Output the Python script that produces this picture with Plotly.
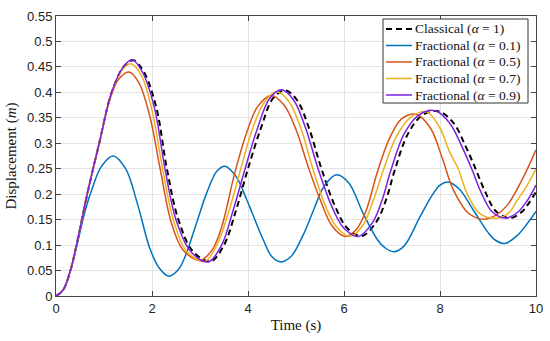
import plotly.graph_objects as go

# ---- data ----
t_classical = [0, 0.15, 0.3, 0.45, 0.65, 0.9, 1.16, 1.41, 1.61, 1.83, 2.09, 2.31, 2.55, 2.85, 3.22, 3.5, 3.74, 4.0, 4.27, 4.52, 4.77, 5.02, 5.27, 5.53, 5.82, 6.07, 6.37, 6.67, 6.88, 7.05, 7.33, 7.63, 7.97, 8.28, 8.53, 8.74, 8.94, 9.17, 9.46, 9.7, 9.87, 10]
y_classical = [0, 0.012, 0.05, 0.11, 0.2, 0.3, 0.4, 0.45, 0.463, 0.44, 0.37, 0.25, 0.15, 0.088, 0.068, 0.1, 0.165, 0.25, 0.33, 0.388, 0.404, 0.385, 0.33, 0.25, 0.175, 0.133, 0.118, 0.145, 0.19, 0.245, 0.318, 0.355, 0.363, 0.34, 0.295, 0.25, 0.205, 0.166, 0.153, 0.165, 0.185, 0.205]

t_a01 = [0, 0.15, 0.3, 0.45, 0.6, 0.75, 0.95, 1.19, 1.45, 1.7, 1.95, 2.15, 2.35, 2.55, 2.7, 2.94, 3.15, 3.35, 3.52, 3.75, 3.97, 4.1, 4.32, 4.5, 4.69, 4.9, 5.15, 5.35, 5.55, 5.71, 5.85, 6.1, 6.4, 6.7, 6.85, 7.03, 7.25, 7.58, 7.85, 8.0, 8.17, 8.4, 8.7, 9.0, 9.15, 9.35, 9.6, 9.8, 10]
y_a01 = [0, 0.012, 0.05, 0.105, 0.165, 0.21, 0.255, 0.275, 0.25, 0.18, 0.095, 0.055, 0.039, 0.052, 0.08, 0.147, 0.205, 0.245, 0.255, 0.235, 0.19, 0.16, 0.11, 0.077, 0.067, 0.078, 0.12, 0.165, 0.21, 0.23, 0.238, 0.222, 0.162, 0.11, 0.095, 0.087, 0.098, 0.155, 0.2, 0.218, 0.224, 0.21, 0.168, 0.125, 0.11, 0.103, 0.118, 0.14, 0.166]

t_a05 = [0, 0.15, 0.3, 0.45, 0.65, 0.9, 1.12, 1.3, 1.52, 1.72, 1.95, 2.17, 2.4, 2.65, 3.0, 3.25, 3.45, 3.72, 3.97, 4.2, 4.48, 4.75, 5.0, 5.25, 5.5, 5.75, 6.02, 6.25, 6.45, 6.7, 6.95, 7.2, 7.5, 7.8, 8.05, 8.28, 8.6, 8.9, 9.15, 9.4, 9.74, 10]
y_a05 = [0, 0.012, 0.05, 0.11, 0.2, 0.3, 0.385, 0.425, 0.44, 0.42, 0.355, 0.25, 0.145, 0.09, 0.07, 0.09, 0.135, 0.24, 0.32, 0.372, 0.394, 0.375, 0.327, 0.255, 0.19, 0.138, 0.117, 0.13, 0.165, 0.245, 0.31, 0.348, 0.357, 0.33, 0.27, 0.208, 0.162, 0.151, 0.158, 0.178, 0.234, 0.287]

t_a07 = [0, 0.15, 0.3, 0.45, 0.65, 0.9, 1.15, 1.35, 1.55, 1.77, 2.0, 2.22, 2.45, 2.72, 3.1, 3.35, 3.58, 3.85, 4.1, 4.35, 4.6, 4.85, 5.1, 5.35, 5.62, 5.85, 6.13, 6.4, 6.6, 6.83, 7.1, 7.4, 7.72, 8.0, 8.2, 8.38, 8.56, 8.83, 9.2, 9.45, 9.6, 9.8, 10]
y_a07 = [0, 0.012, 0.05, 0.11, 0.2, 0.3, 0.397, 0.44, 0.456, 0.435, 0.365, 0.25, 0.148, 0.088, 0.068, 0.1, 0.16, 0.25, 0.33, 0.382, 0.401, 0.382, 0.33, 0.25, 0.175, 0.135, 0.117, 0.14, 0.185, 0.25, 0.315, 0.352, 0.362, 0.33, 0.283, 0.25, 0.202, 0.162, 0.153, 0.165, 0.187, 0.215, 0.25]

t_a09 = [0, 0.15, 0.3, 0.45, 0.65, 0.9, 1.16, 1.4, 1.59, 1.8, 2.05, 2.27, 2.5, 2.8, 3.17, 3.45, 3.68, 3.94, 4.2, 4.45, 4.7, 4.95, 5.2, 5.46, 5.75, 6.0, 6.3, 6.6, 6.8, 6.97, 7.25, 7.55, 7.9, 8.2, 8.45, 8.66, 8.85, 9.08, 9.37, 9.6, 9.8, 10]
y_a09 = [0, 0.012, 0.05, 0.11, 0.2, 0.3, 0.4, 0.45, 0.464, 0.44, 0.37, 0.25, 0.15, 0.088, 0.067, 0.1, 0.165, 0.25, 0.33, 0.388, 0.405, 0.385, 0.33, 0.25, 0.175, 0.133, 0.117, 0.145, 0.19, 0.245, 0.318, 0.355, 0.364, 0.34, 0.295, 0.25, 0.205, 0.166, 0.153, 0.163, 0.185, 0.218]

x_ticks = [0, 2, 4, 6, 8, 10]
y_ticks = [0, 0.05, 0.1, 0.15, 0.2, 0.25, 0.3, 0.35, 0.4, 0.45, 0.5, 0.55]
y_tick_labels = ["0", "0.05", "0.1", "0.15", "0.2", "0.25", "0.3", "0.35", "0.4", "0.45", "0.5", "0.55"]

series_names = ["Classical (<i>α</i> = 1)", "Fractional (<i>α</i> = 0.1)", "Fractional (<i>α</i> = 0.5)",
                "Fractional (<i>α</i> = 0.7)", "Fractional (<i>α</i> = 0.9)"]
series_colors = ["#000000", "#0072BD", "#D95319", "#EDB120", "#7E1FE0"]
series_dash = ["6px,4px", "solid", "solid", "solid", "solid"]
series_width = [2, 1.5, 1.5, 1.5, 1.5]
series_t = [t_classical, t_a01, t_a05, t_a07, t_a09]
series_y = [y_classical, y_a01, y_a05, y_a07, y_a09]

W, H = 550, 341
ML, MR, MT, MB = 56, 14, 16, 45
PW, PH = W - ML - MR, H - MT - MB

def px_x(p):  # pixel -> plot-area fraction (legend layout only)
    return (p - ML) / PW

def px_y(p):
    return (H - MB - p) / PH

fig = go.Figure()
for name, t, y, color, dash, w in zip(series_names, series_t, series_y, series_colors, series_dash, series_width):
    fig.add_trace(go.Scatter(x=t, y=y, mode="lines", name=name, showlegend=False,
                             line=dict(color=color, dash=dash, width=w, shape="spline", smoothing=1.0)))

serif = "Liberation Serif, Times New Roman, serif"
sans = "Liberation Sans, Arial, Helvetica, sans-serif"

# legend box drawn like the MATLAB legend (compact rows)
shapes = [dict(type="rect", xref="paper", yref="paper", layer="above",
               x0=px_x(383), x1=px_x(528), y0=px_y(103), y1=px_y(19),
               line=dict(color="#333", width=1), fillcolor="white")]
annotations = []
row_y = [29, 45.5, 62, 78.5, 95]
for i, name in enumerate(series_names):
    yy = px_y(row_y[i])
    shapes.append(dict(type="line", xref="paper", yref="paper", layer="above",
                       x0=px_x(386), x1=px_x(412), y0=yy, y1=yy,
                       line=dict(color=series_colors[i], width=series_width[i], dash=series_dash[i])))
    annotations.append(dict(xref="paper", yref="paper", x=px_x(413), y=yy, xanchor="left", yanchor="middle",
                            text=name, showarrow=False,
                            font=dict(family=serif, size=13.5, color="#111")))

fig.update_layout(
    width=W, height=H,
    margin=dict(l=ML, r=MR, t=MT, b=MB),
    paper_bgcolor="white", plot_bgcolor="white",
    showlegend=False,
    shapes=shapes, annotations=annotations,
    xaxis=dict(range=[0, 10], tickvals=x_ticks, ticks="inside", ticklen=5, automargin=False,
               showline=True, linecolor="#444", linewidth=1, mirror="ticks",
               showgrid=True, gridcolor="#e3e3e3", zeroline=False,
               tickfont=dict(family=sans, size=13, color="#222"),
               title=dict(text="Time (s)", font=dict(family=serif, size=15, color="#111"), standoff=4)),
    yaxis=dict(range=[0, 0.55], tickvals=y_ticks, ticktext=y_tick_labels, ticks="inside", ticklen=5, automargin=False,
               showline=True, linecolor="#444", linewidth=1, mirror="ticks",
               showgrid=True, gridcolor="#e3e3e3", zeroline=False,
               tickfont=dict(family=sans, size=13, color="#222"),
               title=dict(text="Displacement (<i>m</i>)", font=dict(family=serif, size=15, color="#111"), standoff=6)),
)

fig.write_html("out.html", config={"displayModeBar": False},
               post_script="document.body.style.margin='0px';")
